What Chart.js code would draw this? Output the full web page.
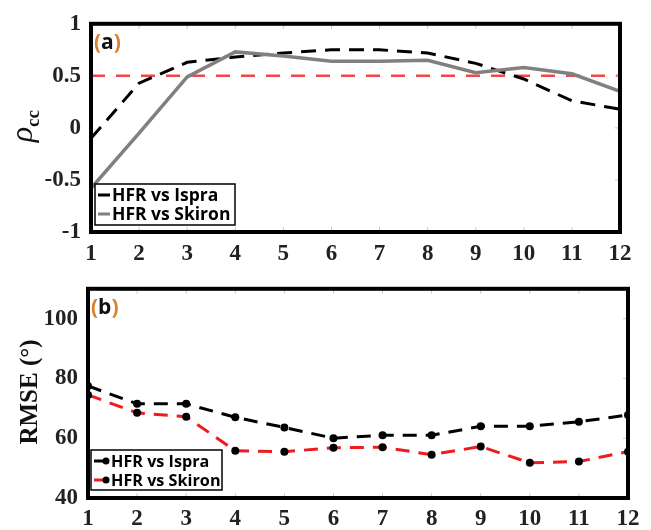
<!DOCTYPE html>
<html>
<head>
<meta charset="utf-8">
<script src="https://cdn.jsdelivr.net/npm/chart.js@4/dist/chart.umd.min.js"></script>
<style>
  body { margin: 0; background: #fff; }
  .wrap { position: relative; width: 651px; height: 530px; }
  canvas { position: absolute; left: 0; }
  #chartA { top: 0; }
  #chartB { top: 265px; }
</style>
</head>
<body>
<div class="wrap">
  <canvas id="chartA" width="651" height="265"></canvas>
  <canvas id="chartB" width="651" height="265"></canvas>
</div>
<script>
// lead index on the x axis
const steps = [1, 2, 3, 4, 5, 6, 7, 8, 9, 10, 11, 12];

// (a) correlation coefficient
const rhoIspra  = [-0.1, 0.43, 0.63, 0.68, 0.72, 0.75, 0.75, 0.72, 0.62, 0.47, 0.26, 0.18];
const rhoSkiron = [-0.58, -0.05, 0.49, 0.73, 0.69, 0.64, 0.64, 0.65, 0.53, 0.58, 0.52, 0.35];
const rhoThreshold = 0.5;
const rhoTicks = [-1, -0.5, 0, 0.5, 1];

// (b) RMSE in degrees
const rmseIspra  = [77.5, 71.5, 71.5, 67, 63.6, 60, 61, 61, 64, 64, 65.5, 67.8];
const rmseSkiron = [74.5, 68.5, 67.2, 55.8, 55.5, 56.8, 57, 54.5, 57.2, 51.8, 52.2, 55.5];
const rmseTicks = [40, 60, 80, 100];

const labelIspra = 'HFR vs Ispra';
const labelSkiron = 'HFR vs Skiron';

const tickFont = { family: 'Liberation Serif', size: 23, weight: 'bold' };
const pts = (ys) => ys.map((y, i) => ({ x: steps[i], y: y }));

// frame, inner tick marks, panel letter, legend box and y title
const decor = {
  id: 'decor',
  afterDraw(chart, args, opts) {
    const ctx = chart.ctx;
    const a = chart.chartArea;
    ctx.save();
    // little inner ticks
    ctx.strokeStyle = '#c8c8c8';
    ctx.lineWidth = 1;
    chart.scales.x.ticks.forEach(t => {
      const x = chart.scales.x.getPixelForValue(t.value);
      ctx.beginPath();
      ctx.moveTo(x, a.top); ctx.lineTo(x, a.top + 5);
      ctx.moveTo(x, a.bottom); ctx.lineTo(x, a.bottom - 5);
      ctx.stroke();
    });
    chart.scales.y.ticks.forEach(t => {
      const y = chart.scales.y.getPixelForValue(t.value);
      ctx.beginPath();
      ctx.moveTo(a.right, y); ctx.lineTo(a.right - 5, y);
      ctx.stroke();
    });
    // frame
    ctx.strokeStyle = '#000';
    ctx.lineWidth = 4;
    ctx.strokeRect(a.left, a.top, a.right - a.left, a.bottom - a.top);

    // panel letter
    ctx.font = 'bold 21px "Open Sans"';
    ctx.textBaseline = 'middle';
    let x = a.left + 3, y = a.top + 19;
    ctx.fillStyle = '#d9822b';
    ctx.fillText('(', x, y);
    x += ctx.measureText('(').width;
    ctx.fillStyle = '#111';
    ctx.fillText(opts.letter, x, y);
    x += ctx.measureText(opts.letter).width;
    ctx.fillStyle = '#d9822b';
    ctx.fillText(')', x, y);

    // legend
    const lg = opts.legend;
    ctx.fillStyle = '#fff';
    ctx.fillRect(lg.x, lg.y, lg.w, lg.h);
    ctx.strokeStyle = '#000';
    ctx.lineWidth = 1.5;
    ctx.strokeRect(lg.x, lg.y, lg.w, lg.h);
    ctx.font = 'bold ' + lg.size + 'px "Open Sans"';
    chart.data.datasets.filter(d => d.inLegend).forEach((d, i) => {
      const ry = lg.y + 11 + i * 19;
      ctx.strokeStyle = d.borderColor;
      ctx.lineWidth = 3;
      ctx.setLineDash([]);
      ctx.beginPath();
      ctx.moveTo(lg.x + 3, ry); ctx.lineTo(lg.x + 15, ry);
      ctx.stroke();
      if (d.pointRadius > 0) {
        ctx.fillStyle = '#000';
        ctx.beginPath();
        ctx.arc(lg.x + 15, ry, 3.5, 0, Math.PI * 2);
        ctx.fill();
      }
      ctx.fillStyle = '#000';
      ctx.fillText(d.label, lg.x + lg.textOff, ry + 1);
    });

    // y title
    ctx.translate(opts.titleX, opts.titleY);
    ctx.rotate(-Math.PI / 2);
    ctx.fillStyle = '#111';
    ctx.textBaseline = 'alphabetic';
    if (opts.rho) {
      ctx.font = 'italic 32px "Liberation Serif"';
      ctx.textAlign = 'left';
      const w = ctx.measureText('\u03c1').width;
      ctx.fillText('\u03c1', -w - 3, 0);
      ctx.font = 'bold 19px "Liberation Serif"';
      ctx.fillText('cc', -3, 7);
    } else {
      ctx.font = 'bold 25px "Liberation Serif"';
      ctx.textAlign = 'center';
      ctx.fillText('RMSE (\u00b0)', 0, 0);
    }
    ctx.restore();
  }
};

function baseOptions(cfg) {
  return {
    responsive: false,
    animation: false,
    layout: { padding: { left: 0, right: cfg.right, top: cfg.top, bottom: 0 } },
    plugins: {
      legend: { display: false },
      tooltip: { enabled: false },
      decor: cfg.decor
    },
    scales: {
      x: {
        type: 'linear', min: 1, max: 12,
        afterFit: s => { s.height = cfg.xHeight; },
        afterBuildTicks: s => { s.ticks = steps.map(v => ({ value: v })); },
        grid: { display: false, drawTicks: false },
        border: { display: false },
        ticks: { font: tickFont, color: '#222', padding: cfg.xPad, maxRotation: 0,
                 callback: v => String(v) }
      },
      y: {
        type: 'linear', min: cfg.yMin, max: cfg.yMax,
        afterFit: s => { s.width = cfg.yWidth; },
        afterBuildTicks: s => { s.ticks = cfg.yTicks.map(v => ({ value: v })); },
        grid: { display: false, drawTicks: false },
        border: { display: false },
        ticks: { font: tickFont, color: '#222', padding: 10, callback: v => String(v) }
      }
    }
  };
}

new Chart(document.getElementById('chartA'), {
  type: 'line',
  data: {
    datasets: [
      { label: labelIspra, data: pts(rhoIspra), borderColor: '#000', borderWidth: 3,
        borderDash: [15, 9], pointRadius: 0, tension: 0, inLegend: true, order: 2 },
      { label: labelSkiron, data: pts(rhoSkiron), borderColor: '#808080', borderWidth: 3.5,
        pointRadius: 0, tension: 0, inLegend: true, order: 1 },
      { label: 'threshold', data: [{ x: 1, y: rhoThreshold }, { x: 12, y: rhoThreshold }],
        borderColor: '#f04848', borderWidth: 2.5, borderDash: [14, 11], pointRadius: 0, order: 3 }
    ]
  },
  options: baseOptions({
    right: 31, top: 18, xHeight: 33, yWidth: 91, xPad: 8,
    yMin: -1, yMax: 1, yTicks: rhoTicks,
    decor: { letter: 'a', legend: { x: 95, y: 184, w: 140, h: 41, size: 17.5, textOff: 17 },
             titleX: 32, titleY: 124, rho: true }
  }),
  plugins: [decor]
});

new Chart(document.getElementById('chartB'), {
  type: 'line',
  data: {
    datasets: [
      { label: labelIspra, data: pts(rmseIspra), borderColor: '#000', borderWidth: 3,
        borderDash: [14, 9], pointRadius: 4, pointBackgroundColor: '#000', pointBorderWidth: 0,
        tension: 0, inLegend: true },
      { label: labelSkiron, data: pts(rmseSkiron), borderColor: '#ee1c1c', borderWidth: 3,
        borderDash: [14, 9], pointRadius: 4, pointBackgroundColor: '#000', pointBorderWidth: 0,
        tension: 0, inLegend: true }
    ]
  },
  options: baseOptions({
    right: 23, top: 22, xHeight: 32, yWidth: 88, xPad: 7,
    yMin: 40, yMax: 110, yTicks: rmseTicks,
    decor: { letter: 'b', legend: { x: 91, y: 185, w: 131, h: 40, size: 16.2, textOff: 20 },
             titleX: 37, titleY: 127, rho: false }
  }),
  plugins: [decor]
});
</script>
</body>
</html>
